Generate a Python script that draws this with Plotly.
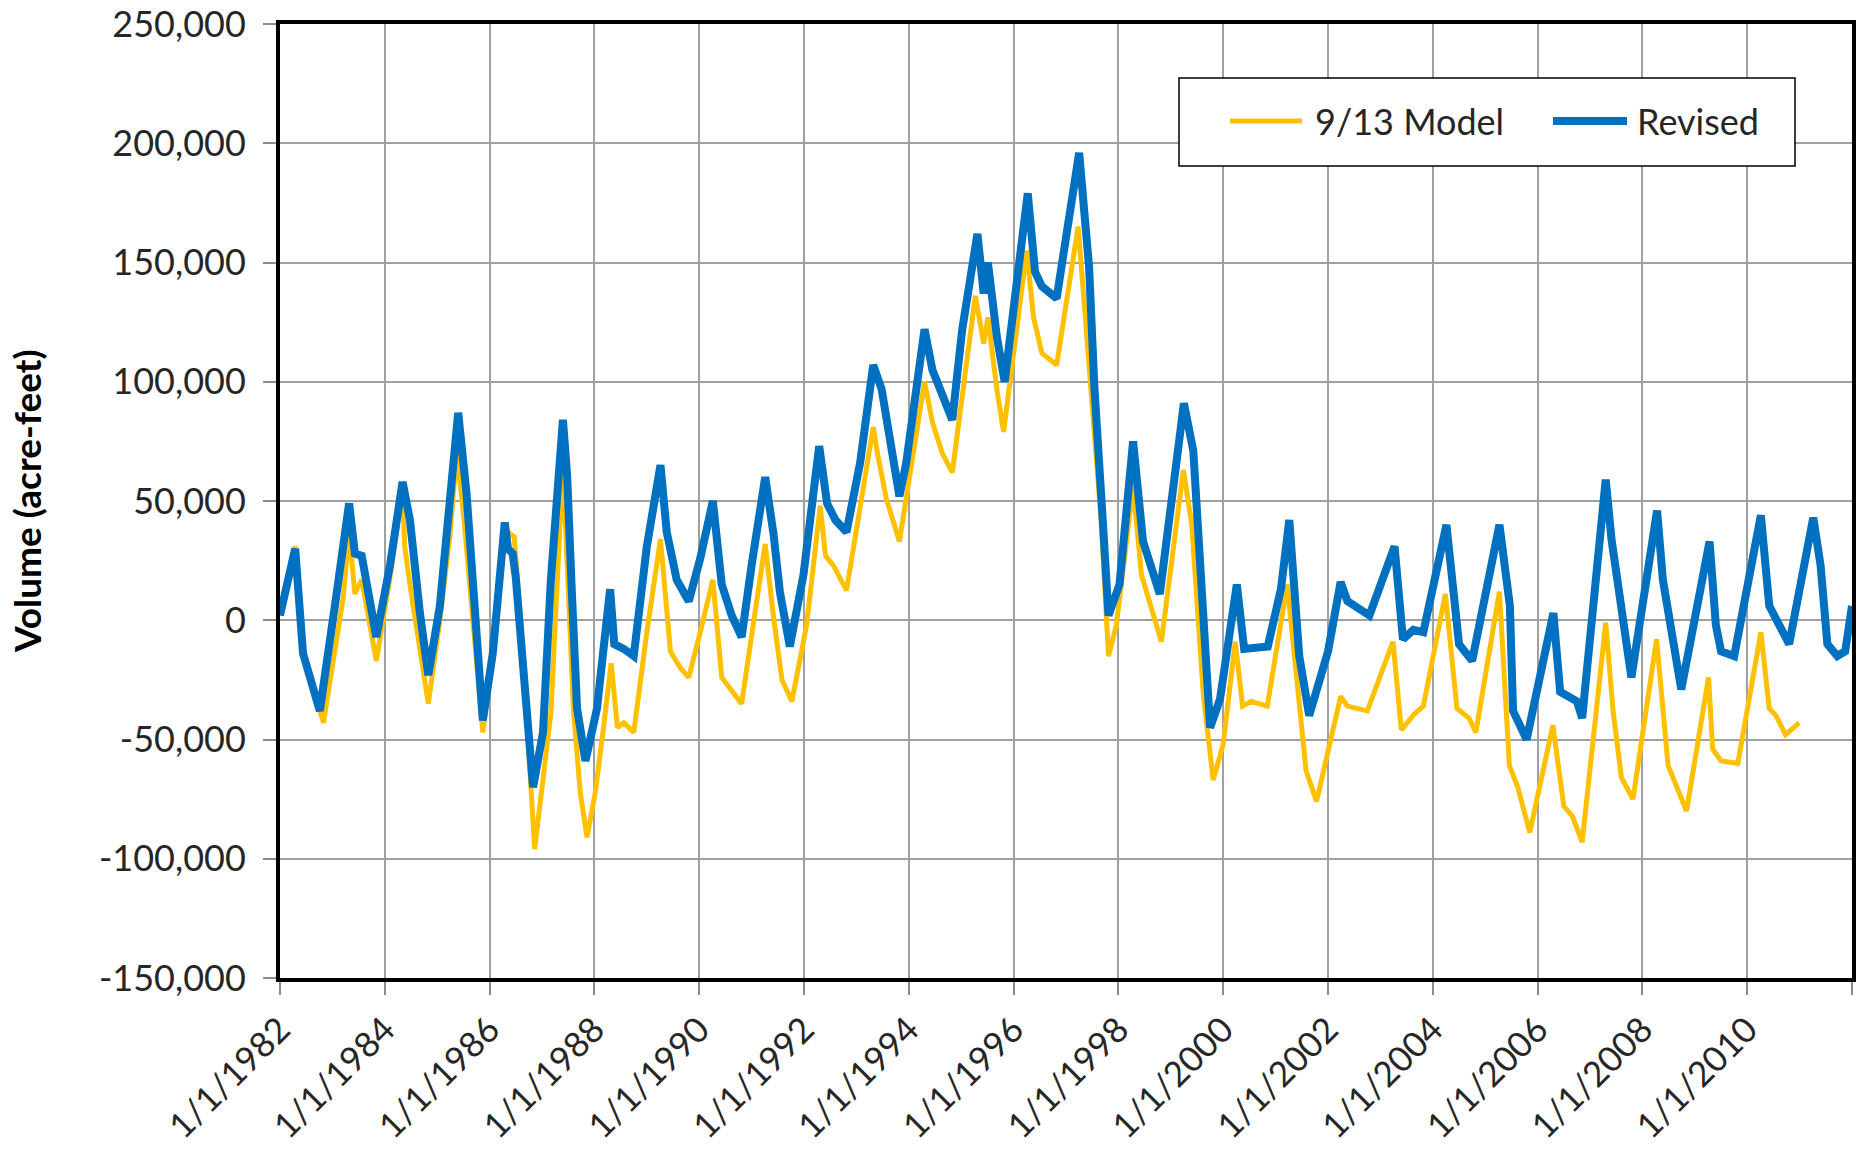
import pandas as pd
import plotly.graph_objects as go

# ---------------- data ----------------
# Dates as decimal years, values in acre-feet
rev_t = [1982.00, 1982.29, 1982.44, 1982.76, 1983.08, 1983.32, 1983.43, 1983.56, 1983.84,
         1984.10, 1984.34, 1984.48, 1984.67, 1984.83, 1985.05, 1985.24, 1985.40, 1985.56,
         1985.71, 1985.87, 1986.06, 1986.29, 1986.35, 1986.44, 1986.50, 1986.67, 1986.83,
         1987.02, 1987.17, 1987.40, 1987.48, 1987.57, 1987.67, 1987.83, 1988.05, 1988.30,
         1988.38, 1988.56, 1988.75, 1989.00, 1989.26, 1989.38, 1989.57, 1989.80, 1990.02,
         1990.26, 1990.43, 1990.62, 1990.81, 1991.00, 1991.26, 1991.42, 1991.54, 1991.73,
         1991.99, 1992.29, 1992.44, 1992.60, 1992.81, 1993.07, 1993.32, 1993.48, 1993.70,
         1993.82, 1993.95, 1994.30, 1994.45, 1994.64, 1994.83, 1995.02, 1995.31, 1995.43,
         1995.51, 1995.68, 1995.83, 1996.03, 1996.27, 1996.41, 1996.54, 1996.82, 1997.10,
         1997.25, 1997.44, 1997.54, 1997.70, 1997.81, 1998.02, 1998.28, 1998.47, 1998.79,
         1999.25, 1999.43, 1999.59, 1999.75, 1999.94, 2000.26, 2000.40, 2000.85, 2001.10,
         2001.26, 2001.45, 2001.64, 2002.00, 2002.24, 2002.37, 2002.79, 2003.27, 2003.43,
         2003.63, 2003.82, 2004.26, 2004.50, 2004.75, 2005.27, 2005.47, 2005.53, 2005.79,
         2006.30, 2006.43, 2006.75, 2006.85, 2007.30, 2007.41, 2007.79, 2008.28, 2008.39,
         2008.74, 2009.28, 2009.40, 2009.50, 2009.75, 2010.26, 2010.42, 2010.80, 2011.26,
         2011.40, 2011.53, 2011.72, 2011.87, 2012.00]
rev_v = [2000, 30000, -14000, -38000, 11000, 49000, 28000, 27000, -7000,
         23000, 58000, 42000, 3000, -23000, 6000, 46000, 87000, 53000,
         10000, -42000, -14000, 41000, 30000, 28000, 18000, -32000, -70000,
         -47000, 17000, 84000, 61000, 12000, -37000, -59000, -37000, 13000,
         -10000, -12000, -15000, 31000, 65000, 37000, 17000, 8000, 26000,
         50000, 15000, 2000, -7000, 23000, 60000, 36000, 12000, -11000,
         19000, 73000, 49000, 42000, 37000, 66000, 107000, 97000, 66000,
         52000, 66000, 122000, 105000, 94000, 84000, 122000, 162000, 137000,
         150000, 119000, 100000, 136000, 179000, 146000, 140000, 135000, 178000,
         196000, 148000, 98000, 42000, 2000, 15000, 75000, 33000, 11000,
         91000, 71000, 13000, -45000, -33000, 15000, -12000, -11000, 13000,
         42000, -15000, -40000, -13000, 16000, 8000, 2000, 31000, -8000,
         -4000, -5000, 40000, -10000, -17000, 40000, 6000, -38000, -50000,
         3000, -30000, -34000, -41000, 59000, 34000, -24000, 46000, 17000,
         -29000, 33000, -2000, -13000, -15000, 44000, 6000, -10000, 43000,
         23000, -10000, -15000, -13000, 6000]

mod_t = [1982.00, 1982.29, 1982.44, 1982.83, 1983.21, 1983.32, 1983.43, 1983.56, 1983.84,
         1984.10, 1984.34, 1984.38, 1984.50, 1984.83, 1985.05, 1985.24, 1985.37, 1985.50,
         1985.87, 1986.06, 1986.29, 1986.47, 1986.62, 1986.86, 1987.17, 1987.40, 1987.60,
         1987.73, 1987.86, 1988.02, 1988.18, 1988.32, 1988.44, 1988.56, 1988.75, 1989.00,
         1989.26, 1989.45, 1989.64, 1989.80, 1990.02, 1990.26, 1990.43, 1990.59, 1990.81,
         1991.03, 1991.26, 1991.42, 1991.58, 1991.77, 1992.05, 1992.31, 1992.41, 1992.56,
         1992.81, 1993.32, 1993.41, 1993.57, 1993.82, 1994.30, 1994.45, 1994.64, 1994.83,
         1995.27, 1995.43, 1995.51, 1995.68, 1995.81, 1996.25, 1996.38, 1996.54, 1996.82,
         1997.23, 1997.36, 1997.52, 1997.67, 1997.81, 1997.96, 1998.28, 1998.44, 1998.82,
         1999.24, 1999.40, 1999.62, 1999.81, 2000.00, 2000.23, 2000.37, 2000.53, 2000.84,
         2001.22, 2001.42, 2001.58, 2001.78, 2002.24, 2002.37, 2002.75, 2003.24, 2003.40,
         2003.66, 2003.82, 2004.24, 2004.46, 2004.69, 2004.82, 2005.27, 2005.46, 2005.62,
         2005.85, 2006.29, 2006.50, 2006.66, 2006.85, 2007.30, 2007.44, 2007.60, 2007.82,
         2008.27, 2008.49, 2008.84, 2009.26, 2009.34, 2009.50, 2009.82, 2010.26, 2010.42,
         2010.55, 2010.73, 2010.99]
mod_v = [2000, 31000, -14000, -43000, 10000, 37000, 11000, 17000, -17000,
         18000, 55000, 31000, 12000, -35000, 0, 35000, 70000, 45000,
         -47000, -15000, 38000, 35000, -8000, -96000, -39000, 65000, -37000,
         -72000, -91000, -72000, -44000, -18000, -45000, -43000, -47000, -5000,
         34000, -13000, -20000, -24000, -5000, 17000, -24000, -29000, -35000,
         -2000, 32000, 1000, -25000, -34000, -2000, 48000, 27000, 23000,
         12500, 81000, 69000, 51000, 33000, 100000, 83000, 70000, 62000,
         136000, 116000, 127000, 97000, 79000, 155000, 127000, 112000, 107000,
         165000, 129000, 83000, 42000, -15000, -2000, 56000, 19000, -9000,
         63000, 40000, -31000, -67000, -52000, -9000, -36000, -34000, -36000,
         15000, -31000, -63000, -76000, -32000, -36000, -38000, -9000, -46000,
         -39000, -36000, 11000, -37000, -41000, -47000, 12000, -61000, -70000,
         -89000, -44000, -78000, -82000, -93000, -1000, -38000, -66000, -75000,
         -8000, -61000, -80000, -24000, -54000, -59000, -60000, -5000, -37000,
         -40000, -48000, -43000]

series_names = ["9/13 Model", "Revised"]
tick_years = list(range(1982, 2013, 2))
tick_labels = [f"1/1/{y}" if y < 2012 else "" for y in tick_years]
y_ticks = list(range(-150000, 250001, 50000))

# ---------------- helpers ----------------
def to_dates(dec_years):
    out = []
    for d in dec_years:
        y = int(d)
        start = pd.Timestamp(year=y, month=1, day=1)
        end = pd.Timestamp(year=y + 1, month=1, day=1)
        out.append(start + (end - start) * (d - y))
    return out

W, H = 1864, 1154
L, R, T, B = 280, 1852, 24, 978  # plot area in pixels

def px_x(x):
    return (x - L) / (R - L)

def px_y(y):
    return 1 - (y - T) / (B - T)

YELLOW = "#FFC000"
BLUE = "#0070C0"
FONT = "Lato"
TXT = "#262626"

fig = go.Figure()
fig.add_trace(go.Scatter(x=to_dates(mod_t), y=mod_v, mode="lines", name=series_names[0],
                         line=dict(color=YELLOW, width=5), showlegend=False))
fig.add_trace(go.Scatter(x=to_dates(rev_t), y=rev_v, mode="lines", name=series_names[1],
                         line=dict(color=BLUE, width=8), showlegend=False))

fig.update_layout(
    width=W, height=H,
    margin=dict(l=L, r=W - R, t=T, b=H - B, autoexpand=False),
    paper_bgcolor="white", plot_bgcolor="white",
    font=dict(family=FONT, size=35, color=TXT),
)
fig.update_xaxes(
    automargin=False,
    range=[pd.Timestamp("1982-01-01"), pd.Timestamp("2012-01-01")],
    tickmode="array",
    tickvals=[pd.Timestamp(year=y, month=1, day=1) for y in tick_years],
    ticktext=tick_labels,
    tickangle=-45,
    ticks="outside", ticklen=13, tickwidth=2, tickcolor="#8c8c8c",
    showgrid=True, gridcolor="#a0a0a0", gridwidth=1.6,
    showline=True, linecolor="black", linewidth=4, mirror=True,
    zeroline=False,
    tickfont=dict(family=FONT, size=35, color=TXT),
)
fig.update_yaxes(
    automargin=False,
    range=[-150000, 250000],
    tickmode="array", tickvals=y_ticks,
    ticktext=[f"{v:,}" for v in y_ticks],
    ticks="outside", ticklen=13, tickwidth=2, tickcolor="#8c8c8c",
    ticklabelstandoff=10,
    showgrid=True, gridcolor="#a0a0a0", gridwidth=1.6,
    showline=True, linecolor="black", linewidth=4, mirror=True,
    zeroline=False,
    tickfont=dict(family=FONT, size=36, color=TXT),
)

# y-axis title
fig.add_annotation(text="<b>Volume (acre-feet)</b>", xref="paper", yref="paper",
                   x=px_x(26), y=0.5, xanchor="center", yanchor="middle",
                   textangle=-90, showarrow=False,
                   font=dict(family=FONT, size=37, color="black"))

# custom legend box
fig.add_shape(type="rect", xref="paper", yref="paper",
              x0=px_x(1179), x1=px_x(1795), y0=px_y(166), y1=px_y(78),
              line=dict(color="black", width=1.5), fillcolor="white", layer="above")
ly = px_y(121)
fig.add_shape(type="line", xref="paper", yref="paper", x0=px_x(1230), x1=px_x(1302),
              y0=ly, y1=ly, line=dict(color=YELLOW, width=5), layer="above")
fig.add_shape(type="line", xref="paper", yref="paper", x0=px_x(1553), x1=px_x(1627),
              y0=ly, y1=ly, line=dict(color=BLUE, width=8), layer="above")
fig.add_annotation(text=series_names[0], xref="paper", yref="paper", x=px_x(1313), y=ly,
                   xanchor="left", yanchor="middle", showarrow=False,
                   font=dict(family=FONT, size=36, color=TXT))
fig.add_annotation(text=series_names[1], xref="paper", yref="paper", x=px_x(1635), y=ly,
                   xanchor="left", yanchor="middle", showarrow=False,
                   font=dict(family=FONT, size=36, color=TXT))

# remove the default page margin so the figure sits at the window origin
fig.write_html("out.html", config={"displayModeBar": False},
               post_script="document.body.style.margin='0';")
